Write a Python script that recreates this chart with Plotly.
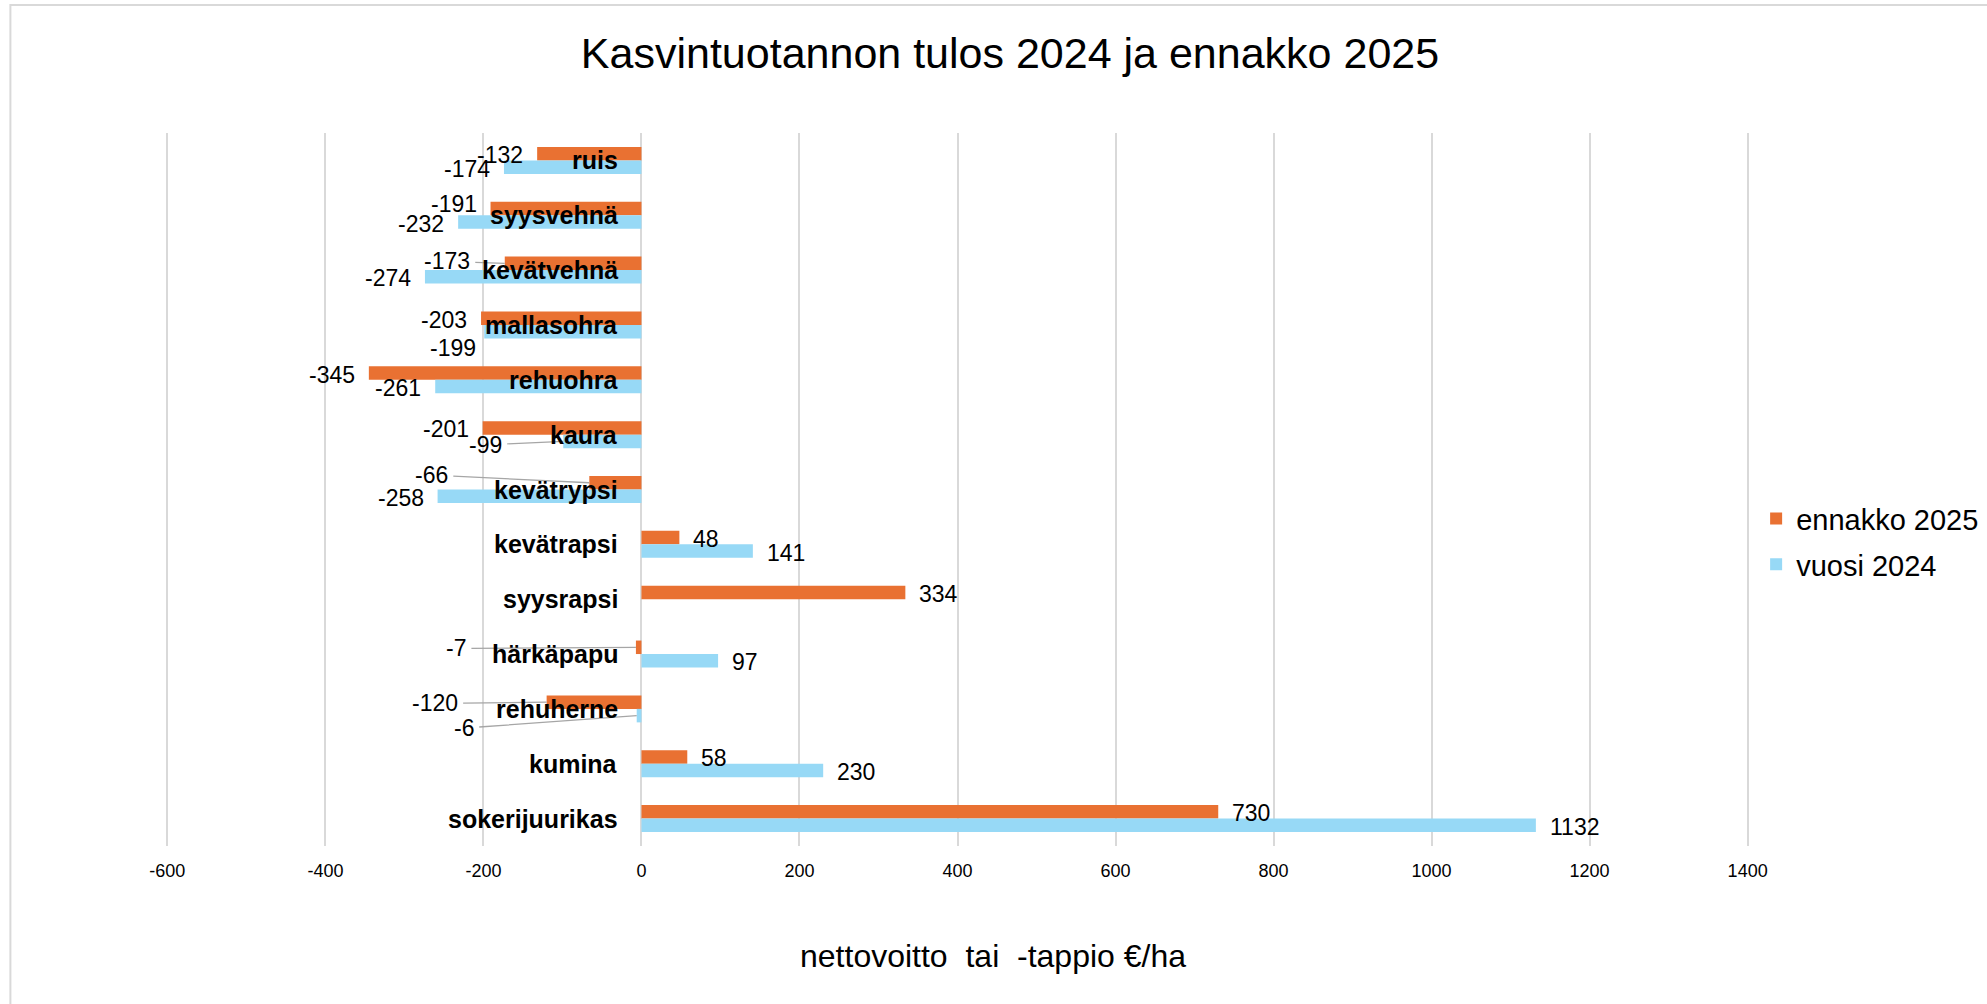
import plotly.graph_objects as go

# ---------------- data ----------------
categories = ["ruis", "syysvehnä", "kevätvehnä", "mallasohra", "rehuohra", "kaura",
              "kevätrypsi", "kevätrapsi", "syysrapsi", "härkäpapu", "rehuherne",
              "kumina", "sokerijuurikas"]
ennakko_2025 = [-132, -191, -173, -203, -345, -201, -66, 48, 334, -7, -120, 58, 730]
vuosi_2024 = [-174, -232, -274, -199, -261, -99, -258, 141, None, 97, -6, 230, 1132]
series_names = ["ennakko 2025", "vuosi 2024"]
x_tick_values = [-600, -400, -200, 0, 200, 400, 600, 800, 1000, 1200, 1400]
x_tick_labels = ["-600", "-400", "-200", "0", "200", "400", "600", "800", "1000", "1200", "1400"]
chart_title = "Kasvintuotannon tulos 2024 ja ennakko 2025"
x_title = "nettovoitto\u00a0 tai\u00a0 -tappio €/ha"

# ---------------- layout / style ----------------
W, H = 1987, 1004
X_MIN, X_MAX = -600, 1400          # gridline extent of the original
X_PAD = 3                          # tiny padding so the edge gridlines are drawn
LEFT_PX, RIGHT_PX = 167, 1747.5    # pixel positions of X_MIN / X_MAX
TOP_PX, BOTTOM_PX = 133, 846
ppu = (RIGHT_PX - LEFT_PX) / (X_MAX - X_MIN)
ml = LEFT_PX - X_PAD * ppu
plot_w = (X_MAX - X_MIN + 2 * X_PAD) * ppu
mr = W - ml - plot_w
M = dict(l=ml, r=mr, t=TOP_PX, b=H - BOTTOM_PX, pad=0, autoexpand=False)
plot_h = BOTTOM_PX - TOP_PX
BARGAP = 0.508
band = plot_h / len(categories)
bar_h = band * (1 - BARGAP) / 2
ORANGE = "#E97132"
BLUE = "#97D9F6"
GRID = "#D9D9D9"
FONT = "Liberation Sans, Arial, sans-serif"
colors = [ORANGE, BLUE]
series_values = [ennakko_2025, vuosi_2024]


def px_to_paper_x(px):
    return (px - ml) / plot_w


def px_to_paper_y(py):
    return (BOTTOM_PX - py) / plot_h


LABEL_GAP = 12      # px between bar end and its value label
LABEL_DY = 1.5      # px the labels sit below the bar centre
LABEL_SIZE = 23
# labels that were moved by hand in the original chart (pixel nudges)
NUDGE = {
    (0, "syysvehnä"): dict(dx=0, dy=-6),
    (1, "mallasohra"): dict(dx=5.5, dy=15),
}
# labels connected with a leader line: text centre offset (px) from bar end
LEADER = {
    (0, "kevätvehnä"): (-58, -2),
    (1, "kaura"): (-78, 3.4),
    (0, "kevätrypsi"): (-158, -7.7),
    (0, "härkäpapu"): (-180, 1.1),
    (0, "rehuherne"): (-112, 1.3),
    (1, "rehuherne"): (-173, 12.5),
}

fig = go.Figure()
for name, vals, col, grp in zip(series_names, series_values, colors, ["a", "b"]):
    fig.add_trace(go.Bar(
        y=categories, x=vals, name=name, orientation="h",
        marker=dict(color=col, line=dict(width=0)),
        legendgroup=grp,
    ))

annotations = []
# value labels
for si, vals in enumerate(series_values):
    bar_off = bar_h / 2 if si == 0 else -bar_h / 2
    for cat, v in zip(categories, vals):
        if v is None:
            continue
        key = (si, cat)
        if key in LEADER:
            ax, ay = LEADER[key]
            annotations.append(dict(
                x=v, y=cat, xref="x", yref="y", text=str(v),
                showarrow=True, arrowhead=0, arrowwidth=1.3, arrowcolor="#A6A6A6",
                ax=ax, ay=ay, axref="pixel", ayref="pixel",
                standoff=0, startstandoff=4, yshift=bar_off,
                font=dict(family=FONT, size=LABEL_SIZE, color="#000000"),
            ))
            continue
        nd = NUDGE.get(key, dict(dx=0, dy=0))
        neg = v < 0
        annotations.append(dict(
            x=v, y=cat, xref="x", yref="y", text=str(v), showarrow=False,
            xanchor="right" if neg else "left", yanchor="middle",
            xshift=(-LABEL_GAP + nd["dx"]) if neg else (LABEL_GAP + nd["dx"]),
            yshift=bar_off - (LABEL_DY + nd["dy"]),
            font=dict(family=FONT, size=LABEL_SIZE, color="#000000"),
        ))

# category labels, next to the zero axis
for cat in categories:
    annotations.append(dict(
        x=0, y=cat, xref="x", yref="y", text="<b>%s</b>" % cat, showarrow=False,
        xanchor="right", yanchor="middle", xshift=-21,
        font=dict(family=FONT, size=25, color="#000000"),
    ))

# x-axis title (centred on the chart area, as in the original)
annotations.append(dict(
    x=px_to_paper_x(993), y=px_to_paper_y(956), xref="paper", yref="paper",
    text=x_title, showarrow=False, xanchor="center", yanchor="middle",
    font=dict(family=FONT, size=32, color="#000000"),
))

fig.update_layout(
    width=W, height=H, margin=M,
    paper_bgcolor="#FFFFFF", plot_bgcolor="#FFFFFF",
    barmode="group", bargap=BARGAP, bargroupgap=0,
    font=dict(family=FONT, color="#000000"),
    title=dict(text=chart_title, x=1010 / W, xref="container", xanchor="center",
               y=1 - 53 / H, yref="container", yanchor="middle",
               font=dict(family=FONT, size=43, color="#000000")),
    xaxis=dict(range=[X_MIN - X_PAD, X_MAX + X_PAD], tickvals=x_tick_values,
               ticktext=x_tick_labels,
               showgrid=True, gridcolor=GRID, gridwidth=2,
               zeroline=True, zerolinecolor=GRID, zerolinewidth=2,
               showline=False, ticks="", ticklabelstandoff=12,
               tickfont=dict(family=FONT, size=18, color="#000000"),
               fixedrange=True),
    yaxis=dict(type="category", autorange="reversed", showticklabels=False,
               showgrid=False, zeroline=False, showline=False, ticks="",
               fixedrange=True),
    legend=dict(x=px_to_paper_x(1756), xanchor="left",
                y=px_to_paper_y(541.7), yanchor="middle",
                font=dict(family=FONT, size=29, color="#000000"),
                tracegroupgap=5, bgcolor="rgba(0,0,0,0)"),
    annotations=annotations,
    shapes=[dict(type="rect", xref="paper", yref="paper",
                 x0=px_to_paper_x(10), x1=px_to_paper_x(2060),
                 y0=px_to_paper_y(1060), y1=px_to_paper_y(5),
                 line=dict(color=GRID, width=2), fillcolor="rgba(0,0,0,0)",
                 layer="below")],
    showlegend=True,
)

fig.write_html("out.html")
